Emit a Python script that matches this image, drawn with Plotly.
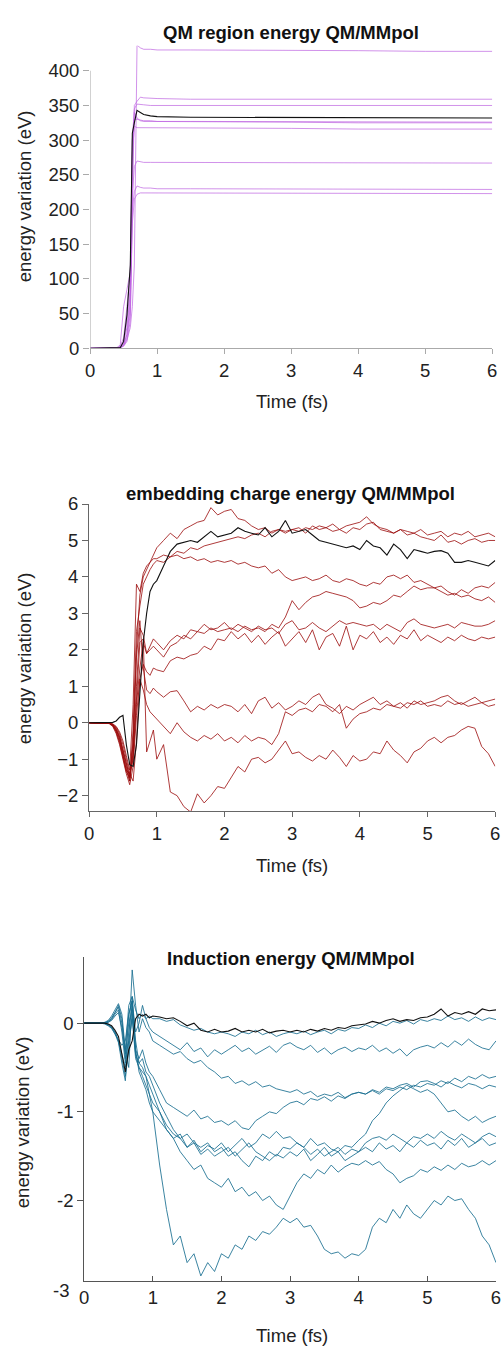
import plotly.graph_objects as go

# ---------------- Panel 1: QM region energy ----------------
qm_t = [0, 0.3, 0.4, 0.45, 0.5, 0.55, 0.6, 0.63, 0.66, 0.7, 0.75, 0.8, 0.9, 1.0, 1.5, 2, 3, 4, 5, 6]
qm_traj = [
    [0, 0, 0, 1, 4, 12, 30, 60, 120, 437, 433, 431, 431, 430, 430, 430, 429, 429, 428, 428],
    [0, 0, 0, 1, 3, 10, 40, 200, 350, 356, 362, 361, 360, 360, 359, 359, 359, 359, 359, 359],
    [0, 0, 0, 2, 6, 20, 60, 300, 345, 352, 352, 351, 350, 350, 350, 350, 350, 350, 350, 350],
    [0, 0, 0, 2, 10, 40, 90, 250, 340, 332, 328, 327, 327, 327, 326, 326, 326, 325, 325, 325],
    [0, 0, 0, 3, 15, 60, 110, 280, 320, 318, 318, 318, 317, 317, 317, 317, 317, 316, 316, 316],
    [0, 0, 0, 2, 8, 30, 80, 220, 262, 270, 269, 268, 268, 268, 268, 267, 267, 267, 267, 267],
    [0, 0, 0, 1, 5, 20, 70, 200, 226, 234, 232, 231, 231, 230, 230, 230, 230, 230, 229, 229],
    [0, 0, 0, 1, 4, 15, 50, 180, 215, 222, 224, 224, 224, 224, 224, 223, 223, 223, 223, 223],
    [0, 0, 1, 5, 60, 85, 110, 300, 330, 330, 329, 328, 328, 327, 327, 327, 327, 327, 326, 326],
]
qm_avg = [0, 0, 0, 1, 10, 48, 120, 310, 325, 343, 340, 337, 335, 334, 333, 333, 332, 332, 332, 332]

# ---------------- Panel 2: embedding charge energy ----------------
emb_t = [0, 0.05, 0.1, 0.15, 0.2, 0.25, 0.3, 0.35, 0.4, 0.45, 0.5, 0.55, 0.6, 0.65, 0.7, 0.75, 0.8, 0.85, 0.9, 0.95, 1.0,
         1.1, 1.2, 1.3, 1.4, 1.5, 1.6, 1.7, 1.8, 1.9, 2.0,
         2.1, 2.2, 2.3, 2.4, 2.5, 2.6, 2.7, 2.8, 2.9, 3.0,
         3.1, 3.2, 3.3, 3.4, 3.5, 3.6, 3.7, 3.8, 3.9, 4.0,
         4.1, 4.2, 4.3, 4.4, 4.5, 4.6, 4.7, 4.8, 4.9, 5.0,
         5.1, 5.2, 5.3, 5.4, 5.5, 5.6, 5.7, 5.8, 5.9, 6.0]
emb_traj = [
    [0, 0, 0, 0, 0, 0, -0.01, -0.03, -0.1, -0.25, -0.5, -0.9, -1.3, 0.5, 3.8, 3.6, 4.1, 4.3, 4.4, 4.6, 4.8,
     5.0, 5.2, 5.05, 5.3, 5.4, 5.5, 5.55, 5.9, 5.7, 5.8,
     5.85, 5.6, 5.55, 5.4, 5.3, 5.35, 5.2, 5.3, 5.25, 5.3,
     5.35, 5.2, 5.4, 5.3, 5.35, 5.45, 5.3, 5.4, 5.45, 5.5,
     5.65, 5.45, 5.35, 5.3, 5.2, 5.3, 5.25, 5.2, 5.3, 5.15,
     5.2, 5.25, 5.1, 5.2, 5.15, 5.25, 5.1, 5.15, 5.2, 5.1],
    [0, 0, 0, 0, 0, 0, -0.01, -0.05, -0.15, -0.35, -0.7, -1.1, -1.5, -0.5, 2.0, 3.5, 4.0, 4.2, 4.4, 4.5, 4.5,
     4.6, 4.55, 4.7, 4.65, 4.8, 4.75, 4.85, 4.9, 4.95, 5.0,
     5.05, 5.1, 5.05, 5.15, 5.2, 5.1, 5.25, 5.3, 5.2, 5.3,
     5.25, 5.35, 5.3, 5.4, 5.35, 5.25, 5.3, 5.2, 5.35, 5.3,
     5.45, 5.5, 5.3, 5.25, 5.2, 5.3, 5.15, 5.2, 5.1, 5.05,
     5.0, 5.15, 4.95, 5.0, 4.9, 5.0, 5.05, 4.95, 5.0, 5.0],
    [0, 0, 0, 0, 0, 0, -0.02, -0.06, -0.2, -0.4, -0.8, -1.2, -1.6, -0.2, 2.5, 3.2, 3.8, 4.0, 4.2, 4.35, 4.45,
     4.4, 4.55, 4.6, 4.5, 4.55, 4.45, 4.5, 4.4, 4.45, 4.4,
     4.45, 4.35, 4.4, 4.3, 4.25, 4.3, 4.1, 4.2, 4.0, 3.9,
     3.95, 4.0, 3.9, 3.95, 4.05, 3.9, 3.85, 3.95, 3.9, 3.8,
     3.75, 3.85, 3.8, 4.0, 4.05, 3.95, 4.05, 3.85, 3.9, 3.8,
     3.7, 3.6, 3.5, 3.55, 3.45, 3.5, 3.4, 3.35, 3.45, 3.3],
    [0, 0, 0, 0, 0, 0, -0.02, -0.08, -0.25, -0.5, -0.9, -1.3, -1.4, -1.0, 0.5, 1.5, 2.2, 1.9, 2.0, 2.1, 2.0,
     1.8, 2.1, 2.2, 2.4, 2.3, 2.5, 2.45, 2.6, 2.5, 2.55,
     2.6, 2.5, 2.65, 2.55, 2.6, 2.5, 2.7, 2.6, 2.9, 3.35,
     3.1, 3.3, 3.45, 3.5, 3.6, 3.55, 3.5, 3.45, 3.35, 3.15,
     3.2, 3.3, 3.25, 3.35, 3.5, 3.45, 3.6, 3.75, 3.65, 3.7,
     3.7, 3.75, 3.6, 3.5, 3.65, 3.55, 3.7, 3.75, 3.7, 3.85],
    [0, 0, 0, 0, 0, 0, -0.02, -0.07, -0.2, -0.45, -0.85, -1.3, -1.6, -0.8, 1.0, 2.6, 2.4, 1.9, 2.1, 2.3, 2.2,
     2.0, 2.25, 2.4, 2.3, 2.55, 2.5, 2.7, 2.55, 2.6, 2.75,
     2.55, 2.7, 2.6, 2.5, 2.65, 2.55, 2.6, 2.45, 2.7, 2.8,
     2.55, 2.6, 2.75, 2.6, 2.5, 2.65, 2.8, 2.7, 2.75, 2.7,
     2.65, 2.7, 2.55, 2.7, 2.6, 2.5, 2.75, 2.85, 2.7, 2.65,
     2.6, 2.65, 2.7, 2.6, 2.75, 2.7, 2.65, 2.65, 2.7, 2.8],
    [0, 0, 0, 0, 0, 0, -0.01, -0.04, -0.12, -0.3, -0.6, -1.0, -1.4, -1.6, -0.5, 1.2, 1.6, 1.4, 1.3, 1.5, 1.45,
     1.4, 1.7, 1.8, 1.75, 1.85, 1.9, 2.1, 2.0, 2.3, 2.25,
     2.5, 2.3, 2.45, 2.2, 2.4, 2.15, 2.35, 2.5, 2.1, 2.3,
     2.5, 2.2, 2.55, 2.0, 2.35, 2.45, 2.1, 2.65, 2.0, 2.4,
     2.3, 2.5, 2.2, 2.35, 2.15, 2.4, 2.3, 2.55, 2.25, 2.4,
     2.3, 2.2, 2.35, 2.25, 2.4, 2.3, 2.25, 2.35, 2.3, 2.35],
    [0, 0, 0, 0, 0, 0, -0.02, -0.08, -0.25, -0.55, -0.95, -1.35, -1.5, -0.6, 1.8, 2.8, 1.5, 0.9, 0.8, 0.95, 0.85,
     0.7, 0.85, 0.88, 0.6, 0.3, 0.45, 0.35, 0.5, 0.4, 0.5,
     0.45, 0.3, 0.5, 0.25, 0.6, 0.7, 0.4, 0.55, 0.35, 0.45,
     0.6, 0.5, 0.7, 0.8, 0.5, 0.4, 0.25, 0.45, 0.35, 0.5,
     0.6, 0.7, 0.5, 0.6, 0.45, 0.55, 0.4, 0.6, 0.5, 0.55,
     0.6, 0.7, 0.75, 0.6, 0.5, 0.6, 0.7, 0.55, 0.6, 0.65],
    [0, 0, 0, 0, 0, 0, -0.03, -0.1, -0.3, -0.6, -1.0, -1.4, -1.7, -1.2, 0.2, 1.2, 0.9, 0.5, 0.3, 0.2, 0.1,
     -0.1, -0.3, 0.0, -0.25, -0.4, -0.5, -0.35, -0.45, -0.3, -0.5,
     -0.4, -0.55, -0.35, -0.5, -0.4, -0.45, -0.6, -0.3, 0.3, 0.2,
     0.35, 0.4, 0.3, 0.5, 0.45, 0.3, 0.5, -0.15, 0.1, 0.25,
     0.3, 0.4, 0.35, 0.5, 0.45, 0.4, 0.55, 0.5, 0.6, 0.45,
     0.5, 0.45, 0.6, 0.5, 0.55, 0.45, 0.5, 0.55, 0.45, 0.5],
    [0, 0, 0, 0, 0, 0, -0.02, -0.06, -0.18, -0.4, -0.75, -1.15, -1.5, -0.9, 0.5, 2.2, 2.3, -0.8, -0.5, -0.2, -1.0,
     -0.6, -1.9, -2.0, -2.3, -2.45, -1.95, -2.2, -2.0, -1.75, -1.8,
     -1.5, -1.2, -1.35, -1.0, -0.95, -1.1, -1.0, -0.75, -0.5, -0.85,
     -0.8, -0.95, -1.05, -0.9, -1.0, -0.75, -0.95, -1.2, -0.9, -1.05,
     -1.0, -0.8, -0.85, -0.5, -0.75, -0.9, -1.1, -0.8, -0.7, -0.5,
     -0.4, -0.55, -0.4, -0.35, -0.2, -0.1, -0.15, -0.65, -0.85, -1.2],
]
emb_avg = [0, 0, 0, 0, 0, 0, 0, 0.01, 0.05, 0.15, 0.2, -0.6, -1.15, -1.2, -0.6, 0.8, 2.2, 3.0, 3.6, 3.8, 3.9,
           4.3, 4.7, 4.9, 4.95, 5.0, 4.95, 5.1, 5.25, 5.1, 5.15,
           5.2, 5.35, 5.25, 5.2, 5.15, 5.35, 5.1, 5.25, 5.55, 5.2,
           5.25, 5.3, 5.15, 5.0, 4.95, 4.9, 4.85, 4.8, 4.85, 4.75,
           5.0, 4.85, 4.8, 4.6, 4.9, 4.75, 4.5, 4.75, 4.7, 4.65,
           4.7, 4.72, 4.65, 4.4, 4.4, 4.45, 4.4, 4.35, 4.3, 4.45]

# ---------------- Panel 3: induction energy ----------------
ind_t = emb_t
ind_traj = [
    [0, 0, 0, 0, 0, 0, 0.01, 0.03, 0.08, 0.15, 0.22, 0.1, -0.3, -0.5, 0.3, 0.15, 0.05, 0.1, 0.05, 0.08, 0.05,
     0.05, 0.02, 0.04, -0.02, -0.05, -0.08, -0.06, -0.1, -0.12, -0.1,
     -0.12, -0.15, -0.1, -0.12, -0.08, -0.13, -0.1, -0.15, -0.12, -0.1,
     -0.12, -0.09, -0.13, -0.1, -0.08, -0.12, -0.07, -0.09, -0.05, -0.06,
     -0.02, -0.05, 0.0, -0.03, 0.02, 0.0, 0.03, -0.01, 0.04, 0.02,
     0.05, 0.03, 0.08, 0.04, 0.06, 0.02, 0.07, 0.03, 0.06, 0.04],
    [0, 0, 0, 0, 0, 0, -0.01, -0.03, -0.06, -0.12, -0.18, -0.25, -0.2, 0.1, 0.25, -0.1, 0.0, 0.2, 0.05, -0.05, -0.1,
     -0.15, -0.2, -0.25, -0.3, -0.22, -0.32, -0.28, -0.38, -0.3, -0.35,
     -0.3, -0.25, -0.32, -0.28, -0.35, -0.3, -0.26, -0.33, -0.25, -0.22,
     -0.27, -0.3, -0.25, -0.33, -0.28, -0.35, -0.3, -0.27, -0.32, -0.28,
     -0.3, -0.25, -0.32, -0.28, -0.34, -0.29, -0.37, -0.3, -0.27, -0.25,
     -0.28, -0.22, -0.27, -0.2, -0.25, -0.18, -0.24, -0.28, -0.3, -0.2],
    [0, 0, 0, 0, 0, 0, 0.0, 0.02, 0.05, 0.12, 0.2, 0.05, -0.4, -0.2, 0.6, 0.2, -0.1, 0.05, -0.05, -0.1, -0.2,
     -0.25, -0.3, -0.35, -0.32, -0.4, -0.45, -0.42, -0.5, -0.55, -0.62,
     -0.6, -0.68, -0.65, -0.7, -0.66, -0.72, -0.7, -0.74, -0.76, -0.78,
     -0.75, -0.8, -0.77, -0.83, -0.8, -0.82, -0.78, -0.84, -0.8, -0.78,
     -0.8, -0.76, -0.8, -0.74, -0.76, -0.72, -0.75, -0.7, -0.72, -0.68,
     -0.7, -0.65, -0.68, -0.62, -0.66, -0.6, -0.63, -0.58, -0.62, -0.6],
    [0, 0, 0, 0, 0, 0, 0.0, -0.02, -0.05, -0.1, -0.2, -0.35, -0.5, -0.1, 0.2, -0.3, -0.4, -0.3, -0.45, -0.55, -0.6,
     -0.75, -0.9, -0.95, -1.0, -1.05, -0.98, -1.08, -1.05, -1.12, -1.1,
     -1.15, -1.1, -1.18, -1.2, -1.1, -1.05, -1.0, -1.02, -0.95, -0.9,
     -0.88, -0.92, -0.85, -0.87, -0.83, -0.88, -0.82, -0.85, -0.8, -0.78,
     -0.8, -0.75, -0.78, -0.72, -0.74, -0.7, -0.68, -0.72, -0.66, -0.65,
     -0.68, -0.72, -0.66, -0.7, -0.73, -0.68, -0.7, -0.74, -0.7, -0.72],
    [0, 0, 0, 0, 0, 0, 0.0, 0.01, 0.04, 0.1, 0.15, -0.1, -0.45, 0.1, 0.25, -0.2, -0.45, -0.4, -0.55, -0.6, -0.7,
     -0.9, -1.05, -1.2, -1.3, -1.25, -1.35, -1.4, -1.35, -1.45, -1.4,
     -1.5, -1.45, -1.55, -1.62, -1.5, -1.55, -1.45, -1.5, -1.4, -1.42,
     -1.35, -1.4, -1.3, -1.38, -1.35, -1.42, -1.45, -1.38, -1.4, -1.32,
     -1.25, -1.1, -1.02, -0.9, -0.82, -0.76, -0.7, -0.74, -0.78, -0.75,
     -0.8, -0.9, -1.0, -0.98, -1.05, -1.1, -1.05, -1.12, -1.08, -1.05],
    [0, 0, 0, 0, 0, 0, 0.0, -0.01, -0.04, -0.1, -0.2, -0.4, -0.6, -0.3, 0.1, -0.35, -0.5, -0.6, -0.7, -0.8, -0.9,
     -1.0, -1.15, -1.25, -1.3, -1.4, -1.32, -1.45, -1.38, -1.42, -1.35,
     -1.45, -1.38, -1.3, -1.4, -1.35, -1.25, -1.3, -1.22, -1.3, -1.28,
     -1.35, -1.4, -1.48, -1.42, -1.5, -1.45, -1.4, -1.48, -1.42, -1.45,
     -1.35, -1.3, -1.28, -1.32, -1.25, -1.3, -1.35, -1.28, -1.3, -1.25,
     -1.3, -1.22, -1.28, -1.32, -1.25, -1.3, -1.35, -1.28, -1.24, -1.28],
    [0, 0, 0, 0, 0, 0, 0.0, 0.02, 0.06, 0.12, 0.18, 0.0, -0.3, 0.2, 0.3, -0.3, -0.55, -0.65, -0.75, -0.9, -1.0,
     -1.1, -1.2, -1.3, -1.25, -1.4, -1.35, -1.48, -1.42, -1.5, -1.45,
     -1.4, -1.5, -1.42, -1.35, -1.45, -1.5, -1.55, -1.48, -1.52, -1.45,
     -1.5, -1.42, -1.55, -1.48, -1.4, -1.5, -1.45, -1.55, -1.5, -1.45,
     -1.4, -1.45, -1.35, -1.42, -1.38, -1.45, -1.35, -1.4, -1.32, -1.38,
     -1.35, -1.42, -1.32, -1.38, -1.3, -1.4, -1.35, -1.3, -1.38, -1.35],
    [0, 0, 0, 0, 0, 0, 0.0, -0.02, -0.05, -0.12, -0.22, -0.45, -0.65, -0.2, 0.05, -0.4, -0.5, -0.55, -0.6, -0.7, -0.8,
     -1.0, -1.2, -1.3, -1.45, -1.55, -1.65, -1.6, -1.75, -1.8, -1.85,
     -1.75, -1.9, -1.85, -1.95, -1.9, -2.0, -1.95, -2.05, -2.1, -1.95,
     -1.8, -1.7, -1.75, -1.65, -1.7, -1.6, -1.68, -1.62, -1.58, -1.6,
     -1.55, -1.6, -1.56, -1.65, -1.7, -1.8, -1.75, -1.72, -1.65, -1.68,
     -1.62, -1.66, -1.6, -1.65, -1.58, -1.62, -1.6, -1.55, -1.6, -1.55],
    [0, 0, 0, 0, 0, 0, 0.0, 0.01, 0.03, 0.08, 0.12, -0.05, -0.35, 0.0, 0.15, -0.35, -0.45, -0.5, -0.6, -0.8, -1.0,
     -1.6, -2.1, -2.5, -2.4, -2.7, -2.6, -2.85, -2.7, -2.8, -2.6,
     -2.65, -2.5, -2.55, -2.4, -2.45, -2.35, -2.38, -2.3, -2.2, -2.25,
     -2.2, -2.3, -2.28, -2.4, -2.55, -2.6, -2.58, -2.65, -2.6, -2.62,
     -2.55, -2.3, -2.2, -2.25, -2.1, -2.2, -2.05, -2.15, -2.2, -2.1,
     -2.0, -2.05, -1.95, -2.0, -1.98, -2.1, -2.2, -2.4, -2.5, -2.7],
]
ind_avg = [0, 0, 0, 0, 0, 0, 0.0, -0.01, -0.03, -0.08, -0.15, -0.35, -0.55, -0.3, -0.2, 0.05, 0.1, 0.08, 0.1, 0.06, 0.08,
           0.07, 0.05, 0.06, 0.02, -0.03, 0.0, -0.08, -0.1, -0.07, -0.1,
           -0.09, -0.06, -0.1, -0.08, -0.1, -0.07, -0.11, -0.09, -0.08, -0.1,
           -0.08, -0.1, -0.07, -0.09, -0.06, -0.08, -0.05, -0.06, -0.03, -0.02,
           -0.01, 0.02, 0.0, 0.03, 0.05, 0.02, 0.04, 0.03, 0.06, 0.07,
           0.1, 0.16, 0.08, 0.12, 0.1, 0.13, 0.1, 0.16, 0.14, 0.15]

titles = ["QM region energy QM/MMpol", "embedding charge energy QM/MMpol", "Induction energy QM/MMpol"]
y_title = "energy variation (eV)"
x_title = "Time (fs)"

# ---------------- figure ----------------
W, H = 501, 1349
FONT = "Liberation Sans, Arial, sans-serif"
FS = 18.5
# the photographed page comes out very slightly shrunk; map target pixels to figure pixels
SX, OX, SY, OY = 0.987, 2.3, 0.993, 0.7


def px(x):
    return min((x - OX) / SX, W) / W


def py(y):
    return 1 - min((y - OY) / SY, H) / H


fig = go.Figure()

panels = [
    (qm_t, qm_traj, qm_avg, "rgba(190,100,225,0.7)", "x", "y"),
    (emb_t, emb_traj, emb_avg, "rgba(155,10,10,0.8)", "x2", "y2"),
    (ind_t, ind_traj, ind_avg, "rgba(25,110,145,0.85)", "x3", "y3"),
]
for t, trajs, avg, col, xa, ya in panels:
    for tr in trajs:
        fig.add_trace(go.Scatter(x=t, y=tr, mode="lines", line=dict(color=col, width=1),
                                 xaxis=xa, yaxis=ya, showlegend=False, hoverinfo="skip"))
    fig.add_trace(go.Scatter(x=t, y=avg, mode="lines", line=dict(color="#111111", width=1.1),
                             xaxis=xa, yaxis=ya, showlegend=False, hoverinfo="skip"))

tickfont = dict(family=FONT, size=FS, color="#222")
common_x = dict(range=[0, 6], tickvals=[0, 1, 2, 3, 4, 5, 6], showgrid=False, zeroline=False,
                showline=True, tickfont=tickfont, ticklen=5, tickwidth=1, ticklabeloverflow="allow")
common_y = dict(showgrid=False, zeroline=False, tickfont=tickfont, ticklen=6, tickwidth=1, ticks="outside",
                ticklabeloverflow="allow")

fig.update_layout(
    width=W, height=H, autosize=False,
    margin=dict(l=0, r=0, t=0, b=0),
    paper_bgcolor="white", plot_bgcolor="white",
    font=dict(family=FONT, size=FS, color="#222"),
    xaxis=dict(common_x, domain=[px(88), px(493)], anchor="y", ticks="outside",
               linecolor="#aaaaaa", tickcolor="#aaaaaa"),
    yaxis=dict(common_y, domain=[py(341), py(35.8)], anchor="x", range=[0, 436],
               tickvals=[0, 50, 100, 150, 200, 250, 300, 350, 400], showline=False, tickcolor="#aaaaaa"),
    xaxis2=dict(common_x, domain=[px(87), px(496)], anchor="y2", ticks="outside",
                linecolor="#666666", tickcolor="#666666"),
    yaxis2=dict(common_y, domain=[py(808), py(498)], anchor="x2", range=[-2.43, 6],
                tickvals=[-2, -1, 0, 1, 2, 3, 4, 5, 6], showline=True,
                linecolor="#666666", tickcolor="#666666"),
    xaxis3=dict(common_x, domain=[px(82), px(499)], anchor="y3", ticks="inside",
                linecolor="#555555", tickcolor="#555555"),
    yaxis3=dict(common_y, domain=[py(1282), py(955)], anchor="x3", range=[-2.91, 0.745],
                tickvals=[-2, -1, 0], ticktext=["-2", "-1", "0"], showline=True,
                linecolor="#555555", tickcolor="#555555"),
)

# y-axis line of panel 1 only spans 0..400
fig.add_shape(type="line", xref="x", yref="y", x0=0, x1=0, y0=0, y1=400,
              line=dict(color="#aaaaaa", width=1))

ann = []
for title, yt in zip(titles, [22, 487, 956]):
    ann.append(dict(text="<b>%s</b>" % title, x=px(290), y=py(yt), xref="paper", yref="paper",
                    showarrow=False, xanchor="center", yanchor="middle",
                    font=dict(family=FONT, size=FS, color="#111")))
for yt in [395, 863, 1337]:
    ann.append(dict(text=x_title, x=px(291), y=py(yt), xref="paper", yref="paper",
                    showarrow=False, xanchor="center", yanchor="middle",
                    font=dict(family=FONT, size=FS, color="#222")))
for yc, xc in [(188, 22), (654, 22), (1122, 20)]:
    ann.append(dict(text=y_title, x=px(xc), y=py(yc), xref="paper", yref="paper",
                    showarrow=False, xanchor="center", yanchor="middle", textangle=-90,
                    font=dict(family=FONT, size=FS, color="#222")))
# "-3" label of panel 3 sits just below the axis end
ann.append(dict(text="-3", x=px(69), y=py(1291), xref="paper", yref="paper",
                showarrow=False, xanchor="right", yanchor="middle",
                font=dict(family=FONT, size=FS, color="#222")))
fig.update_layout(annotations=ann)

# no mode bar, and no default page margin so the figure fills the window
fig.write_html("out.html", config={"displayModeBar": False},
               post_script="document.body.style.margin='0';document.body.style.overflow='hidden';")
